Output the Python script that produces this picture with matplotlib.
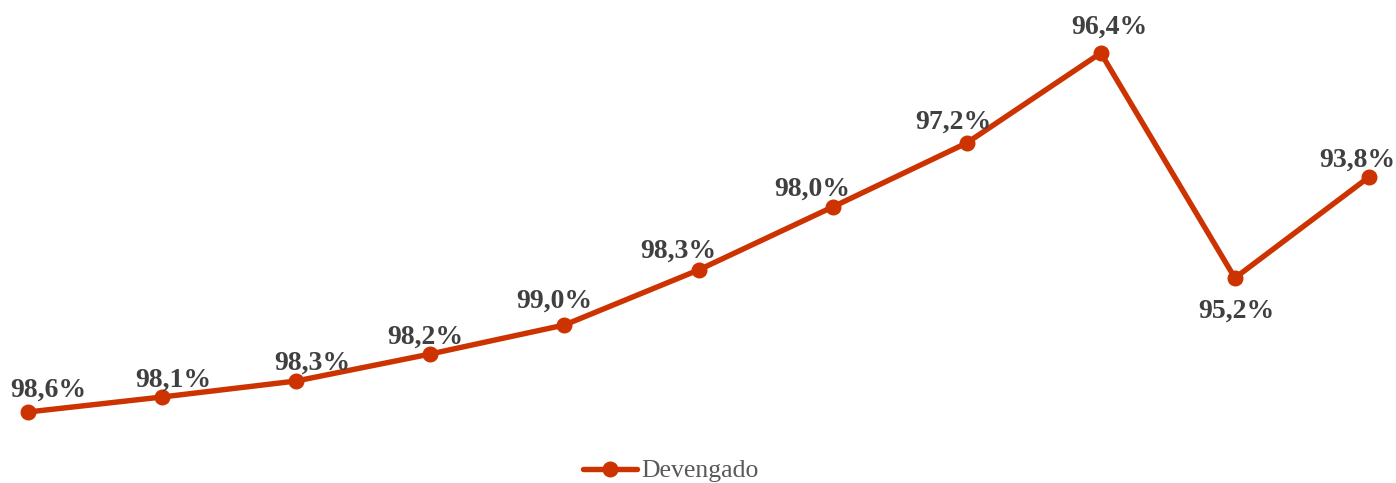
import matplotlib
matplotlib.use("Agg")
import matplotlib.pyplot as plt

# Devengado (relative amounts) per period and the execution rate shown on each point
periodos = list(range(11))
devengado = [71, 86, 102, 129, 158, 213, 276, 340, 430, 205, 306]
ejecucion = ["98,6%", "98,1%", "98,3%", "98,2%", "99,0%", "98,3%",
             "98,0%", "97,2%", "96,4%", "95,2%", "93,8%"]

color_linea = "#CC3300"
color_texto = "#404040"

W, H, DPI = 1396, 483, 100
fig = plt.figure(figsize=(W / DPI, H / DPI), dpi=DPI)
ax = fig.add_axes([0, 0, 1, 1])

x0_px, x1_px = 28, 1369
step = (x1_px - x0_px) / (len(periodos) - 1)
ax.set_xlim(-x0_px / step, (len(periodos) - 1) + (W - x1_px) / step)
ax.set_ylim(0, H)

ax.plot(periodos, devengado, color=color_linea, lw=3.9, marker="o",
        markersize=10.5, label="Devengado", solid_capstyle="round")

# label offsets in pixels (dx, dy) relative to each point
offsets = [(20, 22), (11, 17), (16, 18), (-5, 17), (-10, 24), (-20, 19),
           (-20, 18), (-13, 21), (9, 26), (1, -33), (-12, 17)]
for xi, yi, lab, (dx, dy) in zip(periodos, devengado, ejecucion, offsets):
    ax.annotate(lab, (xi, yi), xytext=(dx, dy), textcoords="offset pixels",
                ha="center", va="center", fontsize=20, fontweight="bold",
                family="Liberation Serif", color=color_texto)

ax.axis("off")

leg = fig.legend(loc="center", bbox_to_anchor=(671 / W, 1 - 471 / H),
                 frameon=False, handlelength=2.1, handletextpad=0.15,
                 prop={"family": "Liberation Serif", "size": 18.5},
                 borderaxespad=0, borderpad=0)
for t in leg.get_texts():
    t.set_color("#595959")

fig.savefig("out.png", dpi=DPI)
